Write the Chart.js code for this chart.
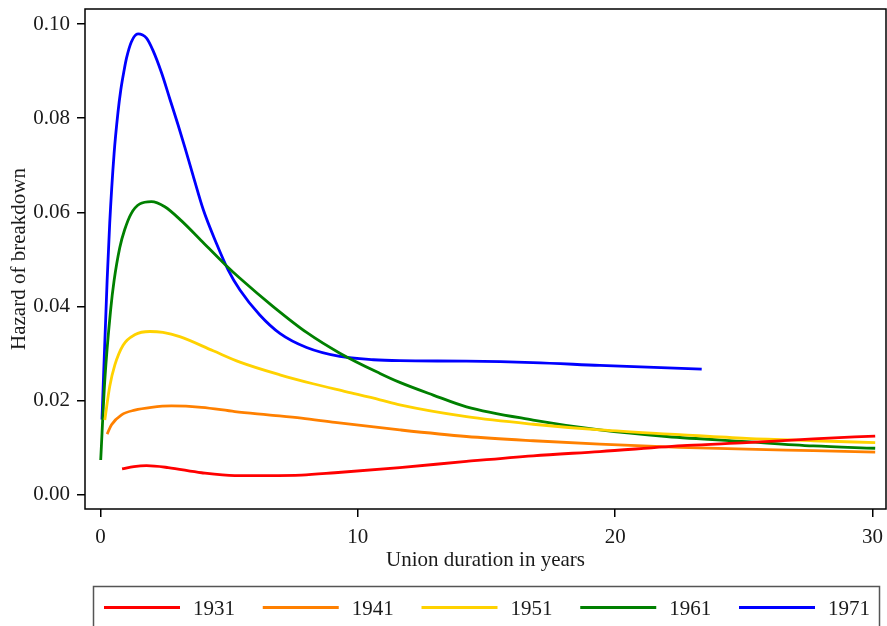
<!DOCTYPE html>
<html>
<head>
<meta charset="utf-8">
<script src="https://cdn.jsdelivr.net/npm/chart.js@4/dist/chart.umd.min.js"></script>
<style>
  body { margin: 0; background: #fff; }
  #wrap { width: 887px; height: 626px; position: relative; }
</style>
</head>
<body>
<div id="wrap"><canvas id="hazard-chart"></canvas></div>
<script>
// cohorts and union duration (years) / hazard values
const cohorts = ['1931', '1941', '1951', '1961', '1971'];

const years1931 = [0.84, 1.3, 1.79, 2.63, 3.93, 5.22, 6.51, 7.81, 9.11, 11.63, 14.22, 16.81, 19.4, 22.8, 25.1, 27.7, 30.1];
const hazard1931 = [0.0055, 0.0060, 0.0062, 0.0058, 0.0047, 0.0041, 0.0041, 0.0042, 0.0047, 0.0058, 0.0071, 0.0083, 0.0092, 0.0105, 0.0111, 0.0119, 0.0125];

const years1941 = [0.26, 0.43, 0.82, 1.33, 1.98, 2.76, 3.93, 5.22, 6.51, 7.81, 9.11, 11.63, 14.22, 16.81, 19.4, 22.5, 25.1, 27.7, 30.1];
const hazard1941 = [0.0129, 0.0149, 0.0170, 0.0180, 0.0186, 0.0189, 0.0186, 0.0177, 0.0170, 0.0163, 0.0154, 0.0138, 0.0124, 0.0115, 0.0108, 0.0101, 0.0097, 0.0094, 0.0091];

const years1951 = [0.17, 0.36, 0.56, 0.88, 1.33, 1.92, 2.43, 3.08, 4.38, 5.42, 6.97, 8.26, 9.56, 10.86, 11.63, 14.22, 16.81, 19.4, 22.5, 25.1, 27.7, 30.1];
const hazard1951 = [0.0159, 0.0230, 0.0276, 0.0318, 0.0340, 0.0347, 0.0345, 0.0336, 0.0306, 0.0282, 0.0255, 0.0236, 0.0219, 0.0202, 0.0191, 0.0166, 0.0150, 0.0138, 0.0128, 0.0120, 0.0115, 0.0111];

const years1961 = [0.01, 0.17, 0.40, 0.53, 0.75, 0.94, 1.2, 1.53, 1.98, 2.5, 3.15, 3.9, 4.83, 5.42, 6.71, 8.01, 9.30, 10.86, 11.63, 12.93, 14.22, 16.81, 19.4, 22.0, 25.1, 27.7, 30.1];
const hazard1961 = [0.0074, 0.0244, 0.0395, 0.0455, 0.0525, 0.0563, 0.0598, 0.0618, 0.0623, 0.0612, 0.0582, 0.0541, 0.0490, 0.0460, 0.0400, 0.0345, 0.0301, 0.0258, 0.0239, 0.0212, 0.0187, 0.0159, 0.0138, 0.0124, 0.0113, 0.0104, 0.0099];

const years1971 = [0.06, 0.26, 0.36, 0.53, 0.68, 0.79, 0.92, 1.01, 1.2, 1.46, 1.79, 2.04, 2.37, 2.69, 3.02, 3.28, 3.6, 4.0, 4.5, 4.96, 5.42, 6.19, 6.97, 8.01, 9.30, 10.6, 11.63, 14.22, 16.8, 19.4, 23.36];
const hazard1971 = [0.016, 0.0456, 0.0577, 0.0725, 0.0812, 0.0860, 0.0902, 0.0927, 0.0962, 0.0979, 0.0970, 0.0944, 0.0897, 0.0842, 0.0785, 0.0738, 0.0678, 0.0605, 0.0535, 0.0478, 0.0435, 0.0382, 0.0343, 0.0313, 0.0294, 0.0287, 0.0285, 0.0284, 0.0281, 0.0275, 0.0267];

const xTicks = [0, 10, 20, 30];
const yTicks = [0, 0.02, 0.04, 0.06, 0.08, 0.10];

const seriesYears = [years1931, years1941, years1951, years1961, years1971];
const seriesHazard = [hazard1931, hazard1941, hazard1951, hazard1961, hazard1971];
const lineColors = ['#ff0000', '#ff8000', '#ffd200', '#008000', '#0000ff'];

const serif = '"Liberation Serif", "DejaVu Serif", serif';
const textColor = '#1a1a1a';

let datasets = [];
cohorts.forEach(function(label, i) {
    datasets.push({
        label: label,
        data: seriesYears[i].map(function(x, j) { return {x: x, y: seriesHazard[i][j]}; }),
        borderColor: lineColors[i],
        backgroundColor: lineColors[i],
        borderWidth: 2.8,
        pointRadius: 0,
        cubicInterpolationMode: 'monotone',
        fill: false,
    });
});

// frame round the plot area and the boxed legend below the axis title
const frameAndLegend = {
    id: 'frameAndLegend',
    afterDraw(chart) {
        const ctx = chart.ctx;
        const a = chart.chartArea;
        ctx.save();
        ctx.strokeStyle = '#000';
        ctx.lineWidth = 1.5;
        ctx.strokeRect(a.left, a.top, a.right - a.left, a.bottom - a.top);

        ctx.strokeStyle = '#555';
        ctx.lineWidth = 1.5;
        ctx.strokeRect(93.5, 586.5, 786, 60);

        ctx.font = '21px ' + serif;
        ctx.fillStyle = textColor;
        ctx.textBaseline = 'middle';
        chart.data.datasets.forEach(function(ds, i) {
            const x0 = 104 + i * 158.75;
            ctx.strokeStyle = ds.borderColor;
            ctx.lineWidth = 3;
            ctx.beginPath();
            ctx.moveTo(x0, 607.5);
            ctx.lineTo(x0 + 76, 607.5);
            ctx.stroke();
            ctx.fillText(ds.label, x0 + 89, 609);
        });
        ctx.restore();
    }
};

function noPadding(s) {
    s.paddingTop = 0;
    s.paddingBottom = 0;
    s.paddingLeft = 0;
    s.paddingRight = 0;
}

Chart.defaults.font.family = serif;
Chart.defaults.font.size = 21;
Chart.defaults.color = textColor;

new Chart(document.getElementById('hazard-chart'), {
    type: 'line',
    data: { datasets: datasets },
    options: {
        responsive: true,
        maintainAspectRatio: false,
        animation: false,
        devicePixelRatio: 1,
        layout: { padding: { top: 9, right: 1, left: 0, bottom: 0 } },
        plugins: {
            legend: { display: false },
            tooltip: { enabled: false },
        },
        scales: {
            x: {
                type: 'linear',
                min: -0.6,
                max: 30.52,
                afterFit: function(s) { s.height = 117; noPadding(s); },
                afterBuildTicks: function(s) { s.ticks = xTicks.map(function(v) { return {value: v}; }); },
                ticks: { padding: 8, maxRotation: 0, callback: function(v) { return String(v); } },
                grid: { display: true, drawOnChartArea: false, drawTicks: true, tickLength: 8, color: '#000', lineWidth: 1.5 },
                border: { display: false },
                title: { display: true, text: 'Union duration in years', padding: { top: 0, bottom: 53 } },
            },
            y: {
                min: -0.003,
                max: 0.1032,
                afterFit: function(s) { s.width = 85; noPadding(s); },
                afterBuildTicks: function(s) { s.ticks = yTicks.map(function(v) { return {value: v}; }); },
                ticks: { padding: 7, callback: function(v) { return v.toFixed(2); } },
                grid: { display: true, drawOnChartArea: false, drawTicks: true, tickLength: 8, color: '#000', lineWidth: 1.5 },
                border: { display: false },
                title: { display: true, text: 'Hazard of breakdown', padding: { top: 7, bottom: 0 } },
            }
        }
    },
    plugins: [frameAndLegend]
});
</script>
</body>
</html>
